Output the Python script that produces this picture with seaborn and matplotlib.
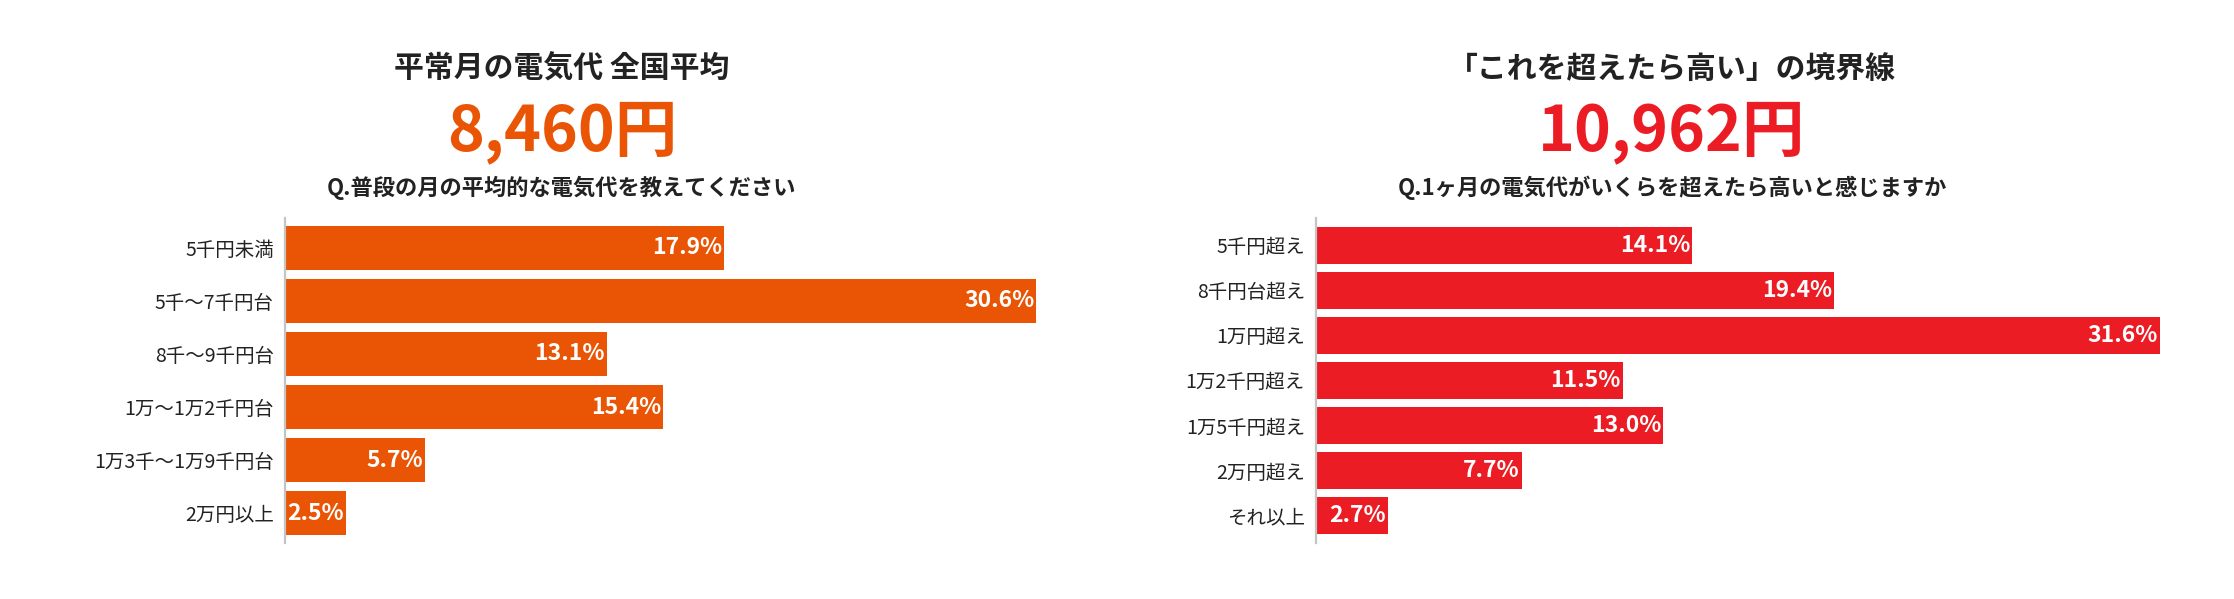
import matplotlib
matplotlib.use("Agg")
import matplotlib.pyplot as plt
import seaborn as sns
import pandas as pd

# ---- data ----
left_title = "平常月の電気代 全国平均"
left_big = "8,460円"
left_question = "Q.普段の月の平均的な電気代を教えてください"
left_categories = ["5千円未満", "5千〜7千円台", "8千〜9千円台", "1万〜1万2千円台",
                   "1万3千〜1万9千円台", "2万円以上"]
left_values = [17.9, 30.6, 13.1, 15.4, 5.7, 2.5]

right_title = "「これを超えたら高い」の境界線"
right_big = "10,962円"
right_question = "Q.1ヶ月の電気代がいくらを超えたら高いと感じますか"
right_categories = ["5千円超え", "8千円台超え", "1万円超え", "1万2千円超え",
                    "1万5千円超え", "2万円超え", "それ以上"]
right_values = [14.1, 19.4, 31.6, 11.5, 13.0, 7.7, 2.7]

ORANGE = "#E95504"
RED = "#EC1C24"

sns.set_theme(style="white")
plt.rcParams["font.family"] = ["Noto Sans CJK JP", "DejaVu Sans"]

W, H = 2234, 599
DPI = 100
fig = plt.figure(figsize=(W / DPI, H / DPI), dpi=DPI)
fig.patch.set_facecolor("white")


def px_rect(left, top, right, bottom):
    return [left / W, 1 - bottom / H, (right - left) / W, (bottom - top) / H]


def panel(cats, vals, color, left_px, px_per_unit, xmax, bar_w, margin,
          title, big, question, cx):
    right_px = left_px + xmax * px_per_unit
    ax = fig.add_axes(px_rect(left_px, 218, right_px, 543))
    df = pd.DataFrame({"cat": cats, "val": vals})
    sns.barplot(data=df, x="val", y="cat", orient="h", color=color,
                saturation=1, width=bar_w, ax=ax, edgecolor="none")
    n = len(cats)
    ax.set_xlim(0, xmax)
    ax.set_ylim(n - 1 + bar_w / 2 + margin, -bar_w / 2 - margin)
    for s in ["top", "right", "bottom"]:
        ax.spines[s].set_visible(False)
    ax.spines["left"].set_color("#C4C4C4")
    ax.spines["left"].set_linewidth(1.6)
    ax.set_xticks([])
    ax.set_xlabel("")
    ax.set_ylabel("")
    ax.tick_params(axis="y", length=0, pad=8, labelsize=14, labelcolor="#222222")
    for i, v in enumerate(vals):
        ax.annotate(f"{v:.1f}%", xy=(v, i), xytext=(-1.5, 0),
                    textcoords="offset points", ha="right", va="center",
                    color="white", fontsize=16.5, fontweight="bold")
    fig.text(cx / W, 1 - 69 / H, title, ha="center", va="center",
             fontsize=21.5, fontweight="bold", color="#222222")
    fig.text(cx / W, 1 - 132 / H, big, ha="center", va="center",
             fontsize=45, fontweight="bold", color=color)
    fig.text(cx / W, 1 - 188 / H, question, ha="center", va="center",
             fontsize=16, fontweight="bold", color="#222222")
    return ax


panel(left_categories, left_values, ORANGE, 285, 24.55, 35, 0.83, 0.15,
      left_title, left_big, left_question, 562)
panel(right_categories, right_values, RED, 1316, 26.7, 33, 0.82, 0.2,
      right_title, right_big, right_question, 1672)

fig.savefig("out.png", dpi=DPI, facecolor="white")
